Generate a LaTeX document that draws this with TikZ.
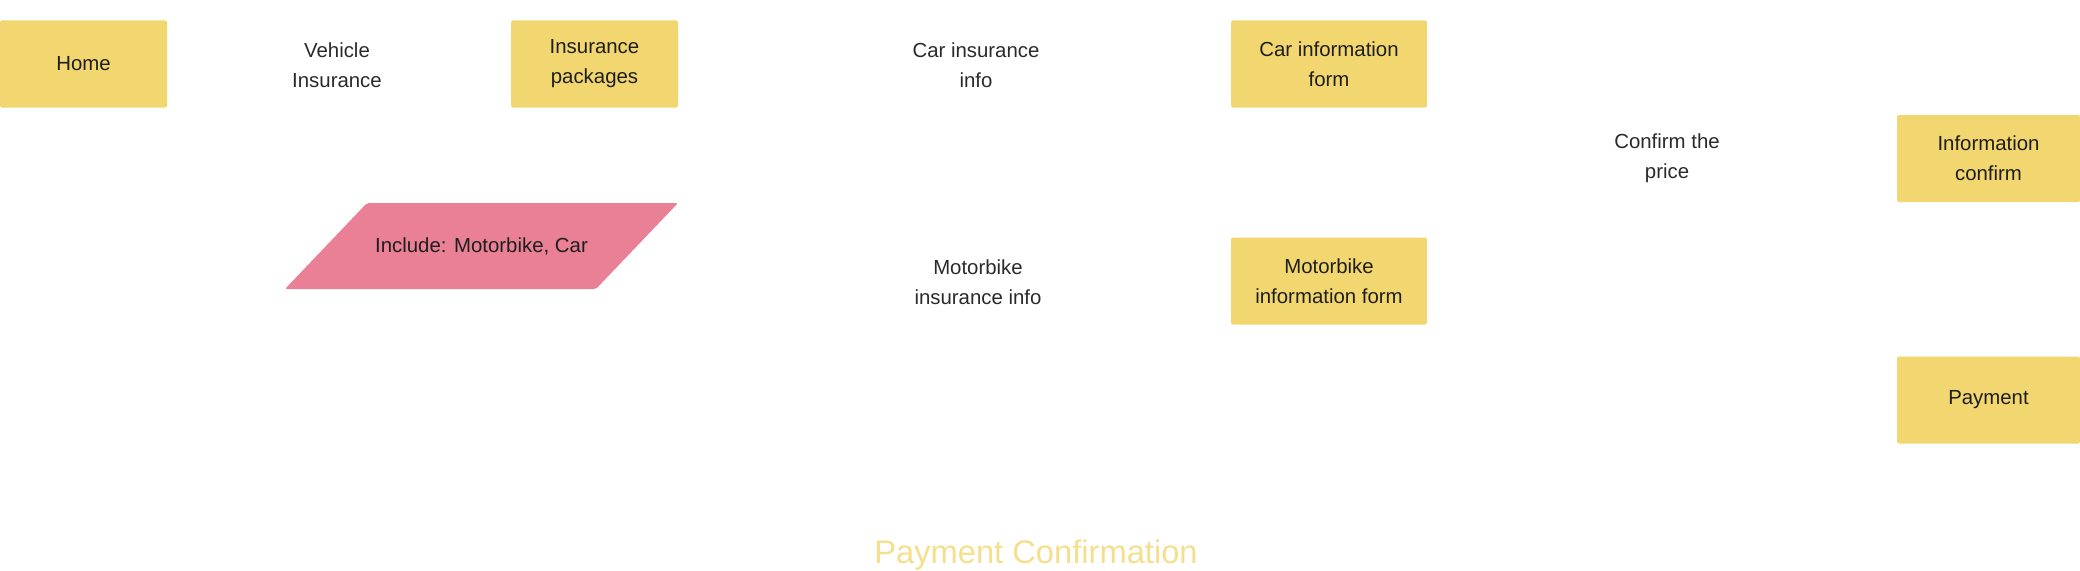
\documentclass[tikz,border=0pt]{standalone}
\usepackage{fontspec}
\setmainfont{Liberation Sans}
\definecolor{boxyellow}{HTML}{F2D66F}
\definecolor{tagpink}{HTML}{E98095}
\definecolor{titleyellow}{HTML}{F5DF8C}
\definecolor{labelgray}{HTML}{2A2A2A}
\definecolor{boxtext}{HTML}{1E1E1E}
\tikzset{
  screen/.style={fill=boxyellow, rounded corners=0.4mm, align=center, text=boxtext,
    minimum height=17.4mm, inner sep=0pt, font=\fontsize{11.6}{17}\selectfont},
  action/.style={align=center, text=labelgray, inner sep=0pt, font=\fontsize{11.6}{17}\selectfont},
}

\begin{document}
\begin{tikzpicture}[x=0.2mm,y=-0.2mm]
	\useasboundingbox (0,0) rectangle (2080,571);
	% screens
	\node[screen, minimum width=33.4mm] (home) at (83.5,64) {Home};
	\node[screen, minimum width=33.4mm] (packages) at (594.5,64) {Insurance\\packages};
	\node[screen, minimum width=39.2mm] (carform) at (1329,64) {Car information\\form};
	\node[screen, minimum width=39.2mm] (bikeform) at (1329,281) {Motorbike\\information form};
	\node[screen, minimum width=36.6mm] (infoconfirm) at (1988.5,158.5) {Information\\confirm};
	\node[screen, minimum width=36.6mm] (payment) at (1988.5,400) {Payment};
	% actions
	\node[action] (vehicle) at (337,65) {Vehicle\\Insurance};
	\node[action] (carinfo) at (976,65) {Car insurance\\info};
	\node[action] (bikeinfo) at (978,282) {Motorbike\\insurance info};
	\node[action] (price) at (1667,158.5) {Confirm the\\price};
	% note
	\fill[tagpink, rounded corners=0.4mm] (367,203) -- (678,203) -- (596,289) -- (285,289) -- cycle;
	\node[action, text=boxtext] (include) at (481.5,246) {Include: Motorbike, Car};
	% title
	\node[anchor=base, text=titleyellow, inner sep=0pt, font=\fontsize{18.6}{22}\selectfont] (title) at (1036,563) {Payment Confirmation};
\end{tikzpicture}
\end{document}
